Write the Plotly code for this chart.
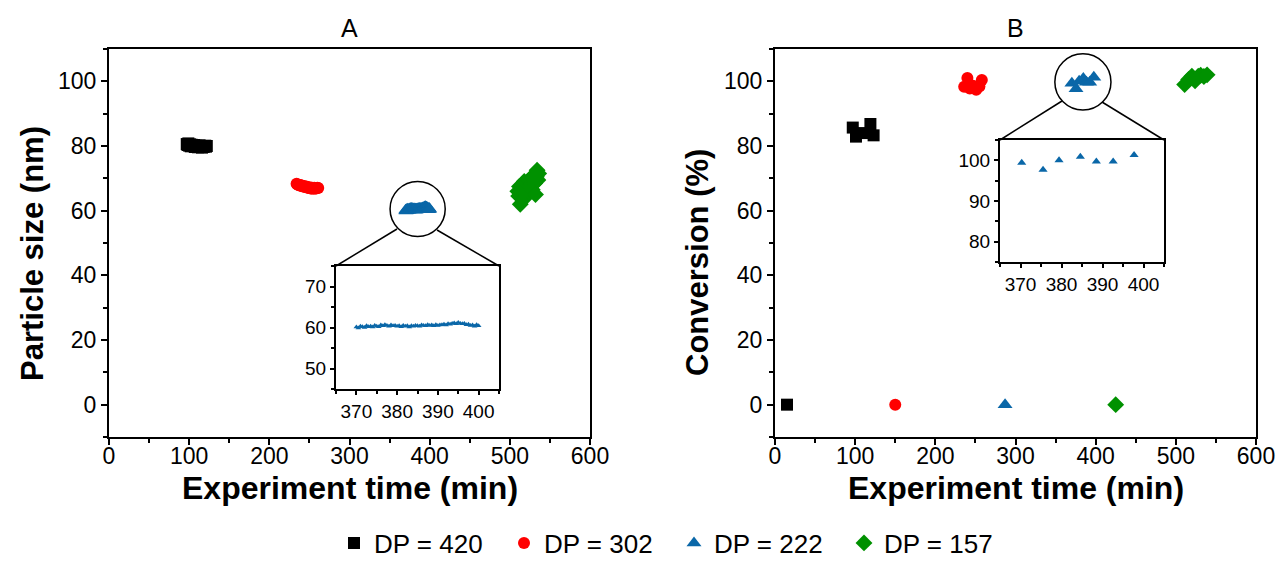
import plotly.graph_objects as go
import numpy as np

# ---------------- data ----------------
series_names = ["DP = 420", "DP = 302", "DP = 222", "DP = 157"]
colors = ["#000000", "#FF0000", "#0A67A8", "#009100"]
symbols = ["square", "circle", "triangle-up", "diamond"]

# Panel A: particle size (nm) vs experiment time (min)
a420_t = [97, 98, 99, 100, 101, 102, 103, 104, 105, 106, 107, 108, 109, 110, 111, 112, 113,
          114, 115, 116, 117, 118, 119, 120, 121, 122]
a420_y = [80.6, 80.3, 80.8, 80.1, 80.5, 79.9, 80.4, 80.2, 80.0, 80.3, 79.7, 80.1, 79.8, 80.0,
          79.6, 79.9, 80.2, 79.7, 79.8, 79.5, 80.0, 79.7, 79.9, 80.1, 79.8, 80.0]

a302_t = [234, 235, 236, 237, 238, 239, 240, 241, 242, 243, 244, 245, 246, 247, 248, 249, 250,
          251, 252, 253, 254, 255, 256, 257, 258, 259, 260, 261]
a302_y = [68.3, 68.1, 68.0, 67.9, 67.8, 67.9, 67.6, 67.7, 67.5, 67.6, 67.4, 67.3, 67.5, 67.2,
          67.3, 67.0, 67.1, 66.9, 67.2, 66.8, 67.0, 66.9, 67.1, 66.8, 67.0, 66.9, 67.1, 67.0]

a222_t = [370.0, 370.5, 371.0, 371.5, 372.0, 372.5, 373.0, 373.5, 374.0, 374.5, 375.0, 375.5,
          376.0, 376.5, 377.0, 377.5, 378.0, 378.5, 379.0, 379.5, 380.0, 380.5, 381.0, 381.5,
          382.0, 382.5, 383.0, 383.5, 384.0, 384.5, 385.0, 385.5, 386.0, 386.5, 387.0, 387.5,
          388.0, 388.5, 389.0, 389.5, 390.0, 390.5, 391.0, 391.5, 392.0, 392.5, 393.0, 393.5,
          394.0, 394.5, 395.0, 395.5, 396.0, 396.5, 397.0, 397.5, 398.0, 398.5, 399.0, 399.5,
          400.0]
a222_y = [60.1, 59.9, 60.3, 60.2, 60.0, 60.4, 60.2, 60.3, 60.1, 60.5, 60.3, 60.2, 60.6, 60.4,
          60.7, 60.5, 60.3, 60.6, 60.4, 60.5, 60.3, 60.4, 60.2, 60.5, 60.3, 60.4, 60.1, 60.4,
          60.3, 60.5, 60.4, 60.3, 60.6, 60.5, 60.4, 60.7, 60.5, 60.6, 60.4, 60.7, 60.5, 60.6,
          60.7, 60.8, 60.6, 60.9, 60.8, 61.0, 61.1, 60.9, 61.2, 61.0, 60.9, 61.0, 60.7, 60.8,
          60.5, 60.6, 60.3, 60.7, 60.4]

a157_t = [510, 511, 512, 513, 514, 515, 516, 517, 518, 519, 520, 521, 522, 523, 524, 525, 526,
          527, 528, 529, 530, 531, 532, 533, 534, 535, 536]
a157_y = [66.0, 64.5, 67.5, 62.0, 65.5, 68.0, 63.5, 66.5, 69.0, 64.0, 67.0, 65.0, 68.5, 66.0,
          69.5, 67.5, 70.0, 68.0, 66.5, 69.0, 71.0, 68.5, 65.0, 70.5, 72.5, 69.5, 71.5]

# Panel B: conversion (%) vs experiment time (min)
b420_t = [15, 97, 101, 111, 119, 123]
b420_y = [0, 85.7, 82.9, 84.0, 86.8, 83.3]
b302_t = [150, 236, 240, 243, 247, 251, 255, 258]
b302_y = [0, 98.3, 101.0, 97.8, 98.6, 97.4, 98.4, 100.4]
b222_t = [287, 370.3, 375.5, 379.4, 384.6, 388.5, 392.6, 397.7]
b222_y = [0, 99.4, 97.7, 100.0, 100.9, 99.7, 99.7, 101.3]
b157_t = [425, 511, 516, 520, 524, 528, 531, 535, 539]
b157_y = [0, 99.0, 100.6, 101.6, 100.2, 101.6, 101.9, 101.5, 102.0]

x_ticks = [0, 100, 200, 300, 400, 500, 600]
y_ticks = [0, 20, 40, 60, 80, 100]
inset_x_ticks = [370, 380, 390, 400]
insetA_y_ticks = [50, 60, 70]
insetB_y_ticks = [80, 90, 100]

# ---------------- layout geometry (pixels -> paper) ----------------
W, H = 1283, 574
def px(x):
    return x / W
def py(y):
    return 1 - y / H

FONT = "Liberation Sans, Arial, sans-serif"

fig = go.Figure()

a_data = [(a420_t, a420_y), (a302_t, a302_y), (a222_t, a222_y), (a157_t, a157_y)]
b_data = [(b420_t, b420_y), (b302_t, b302_y), (b222_t, b222_y), (b157_t, b157_y)]
sizes = [12, 12, 13, 13]

for i in range(4):
    t, y = a_data[i]
    fig.add_trace(go.Scatter(
        x=t, y=y, mode="markers", name=series_names[i], legendgroup=series_names[i],
        marker=dict(symbol=symbols[i], size=sizes[i], color=colors[i], line=dict(width=0)),
        xaxis="x", yaxis="y", showlegend=True))
for i in range(4):
    t, y = b_data[i]
    fig.add_trace(go.Scatter(
        x=t, y=y, mode="markers", name=series_names[i], legendgroup=series_names[i],
        marker=dict(symbol=symbols[i], size=sizes[i], color=colors[i], line=dict(width=0)),
        xaxis="x2", yaxis="y2", showlegend=False))

# insets
fig.add_trace(go.Scatter(
    x=a222_t, y=a222_y, mode="markers", showlegend=False,
    marker=dict(symbol="triangle-up", size=5, color=colors[2], line=dict(width=0)),
    xaxis="x3", yaxis="y3"))
fig.add_trace(go.Scatter(
    x=b222_t[1:], y=b222_y[1:], mode="markers", showlegend=False,
    marker=dict(symbol="triangle-up", size=8, color=colors[2], line=dict(width=0)),
    xaxis="x4", yaxis="y4"))

# domains
A_x = [px(109), px(590)]
B_x = [px(775), px(1256)]
main_y = [py(437), py(49)]
insA_x = [px(336), px(499)]
insA_y = [py(389), py(266)]
insB_x = [px(1000), px(1164)]
insB_y = [py(262), py(140)]

tickfont = dict(family=FONT, size=23, color="black")
common = dict(showgrid=False, zeroline=False, showline=True, linecolor="black",
              linewidth=2, mirror=True, ticks="outside", tickwidth=2, tickcolor="black",
              automargin=False)
def main_x(domain, anchor):
    return dict(domain=domain, anchor=anchor, range=[0, 600], tickvals=x_ticks,
                ticklen=6, tickfont=tickfont, ticklabelstandoff=-9,
                minor=dict(dtick=50, tick0=0, ticks="outside", ticklen=4, tickwidth=2,
                           tickcolor="black", showgrid=False), **common)
def main_yax(anchor):
    return dict(domain=main_y, anchor=anchor, range=[-10, 110], tickvals=y_ticks,
                ticklen=6, tickfont=tickfont,
                minor=dict(dtick=10, tick0=0, ticks="outside", ticklen=4, tickwidth=2,
                           tickcolor="black", showgrid=False), **common)
insfont = dict(family=FONT, size=19, color="black")
def ins_x(domain, anchor):
    return dict(domain=domain, anchor=anchor, range=[365, 405], tickvals=inset_x_ticks,
                ticklen=4, tickfont=insfont,
                minor=dict(dtick=5, tick0=365, ticks="outside", ticklen=3, tickwidth=1.5,
                           tickcolor="black", showgrid=False), **common)
def ins_y(domain, anchor, rng, tv):
    return dict(domain=domain, anchor=anchor, range=rng, tickvals=tv,
                ticklen=4, tickfont=insfont,
                minor=dict(dtick=5, tick0=rng[0], ticks="outside", ticklen=3, tickwidth=1.5,
                           tickcolor="black", showgrid=False), **common)

shapes = []
# magnifier circles, centred on the DP=222 data
cA_t, cA_y = float(np.mean(a222_t)), float(np.mean(a222_y))
shapes.append(dict(type="circle", xref="x", yref="y", x0=cA_t - 34.4, x1=cA_t + 34.4,
                   y0=cA_y - 8.5, y1=cA_y + 8.5, line=dict(color="black", width=1.5)))
cB_t, cB_y = float(np.mean(b222_t[1:])), float(np.mean(b222_y[1:]))
shapes.append(dict(type="circle", xref="x2", yref="y2", x0=cB_t - 35, x1=cB_t + 35,
                   y0=cB_y - 8.7, y1=cB_y + 8.7, line=dict(color="black", width=1.5)))
# connector lines
for (x0, y0, x1, y1) in [(397, 229, 336, 266), (437, 230, 499, 266),
                         (1062, 101, 1000, 140), (1102, 102, 1164, 140)]:
    shapes.append(dict(type="line", xref="paper", yref="paper", x0=px(x0), y0=py(y0),
                       x1=px(x1), y1=py(y1), line=dict(color="black", width=1.5)))

xt_font = dict(family=FONT, size=32, color="black")
yt_font = dict(family=FONT, size=31, color="black")
def ann(text, x, y, font, angle=0):
    return dict(text=text, x=x, y=y, xref="paper", yref="paper", showarrow=False,
                xanchor="center", yanchor="middle", textangle=angle, font=font)
annotations = [
    ann("A", (A_x[0] + A_x[1]) / 2, py(28), dict(family=FONT, size=25, color="black")),
    ann("B", (B_x[0] + B_x[1]) / 2, py(28), dict(family=FONT, size=25, color="black")),
    ann("<b>Experiment time (min)</b>", (A_x[0] + A_x[1]) / 2, py(488), xt_font),
    ann("<b>Experiment time (min)</b>", (B_x[0] + B_x[1]) / 2, py(488), xt_font),
    ann("<b>Particle size (nm)</b>", px(33), py(254), yt_font, -90),
    ann("<b>Conversion (%)</b>", px(697), py(263), yt_font, -90),
]

fig.update_layout(
    template="none",
    width=W, height=H,
    margin=dict(l=0, r=0, t=0, b=0, pad=0),
    paper_bgcolor="white", plot_bgcolor="white",
    font=dict(family=FONT, color="black"),
    xaxis=main_x(A_x, "y"), yaxis=main_yax("x"),
    xaxis2=main_x(B_x, "y2"), yaxis2=main_yax("x2"),
    xaxis3=ins_x(insA_x, "y3"), yaxis3=ins_y(insA_y, "x3", [45, 75], insetA_y_ticks),
    xaxis4=ins_x(insB_x, "y4"), yaxis4=ins_y(insB_y, "x4", [75, 105], insetB_y_ticks),
    shapes=shapes, annotations=annotations,
    legend=dict(orientation="h", x=px(334), xanchor="left", y=py(543), yanchor="middle",
                font=dict(family=FONT, size=26, color="black"),
                entrywidth=125, entrywidthmode="pixels", bgcolor="rgba(0,0,0,0)"),
)

fig.write_html(
    "out.html",
    config={"displayModeBar": False},
    post_script="document.body.style.margin='0';document.body.style.overflow='hidden';",
)
